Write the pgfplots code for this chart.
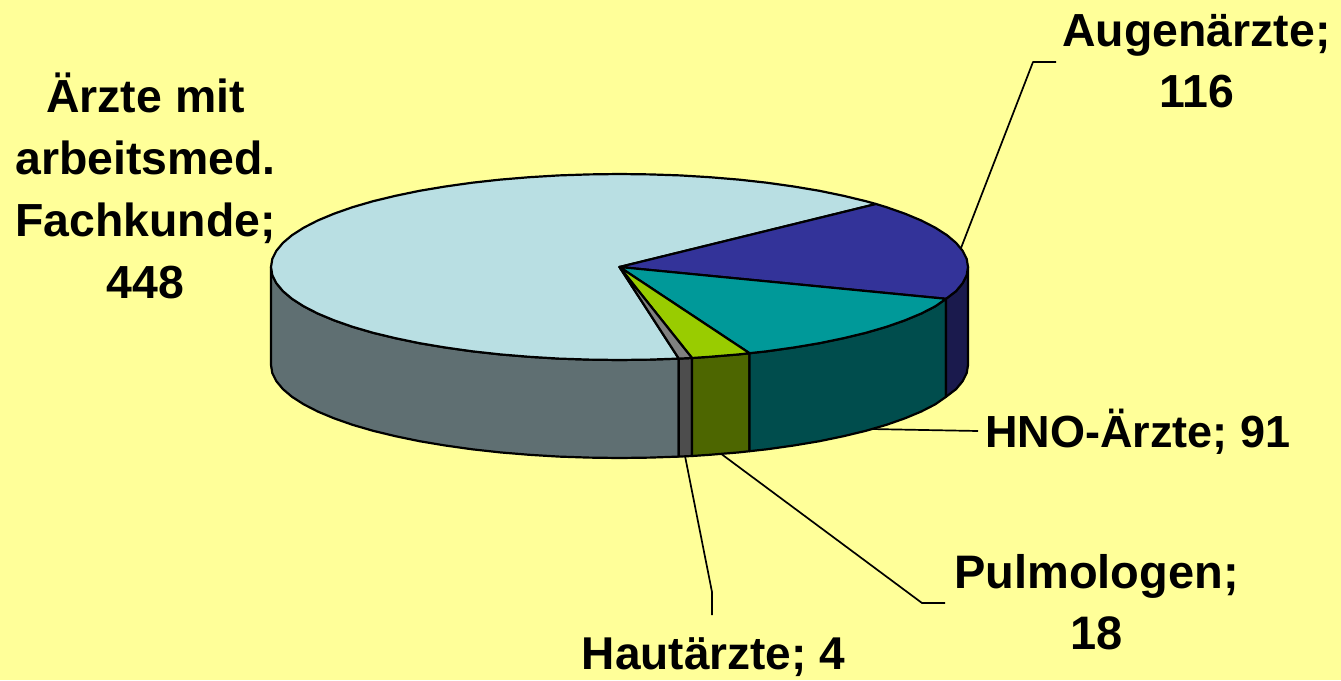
\documentclass[border=0pt]{standalone}
\usepackage{pgfplots}
\pgfplotsset{compat=1.18}
\usepackage{fontspec}
\setmainfont{Liberation Sans}
\definecolor{bg}{HTML}{FFFF99}
\definecolor{mainT}{HTML}{B9DFE3}
\definecolor{mainS}{HTML}{5F6F72}
\definecolor{augT}{HTML}{333399}
\definecolor{augS}{HTML}{1A1A4D}
\definecolor{hnoT}{HTML}{009999}
\definecolor{hnoS}{HTML}{004D4D}
\definecolor{pulT}{HTML}{99CC00}
\definecolor{pulS}{HTML}{4D6600}
\definecolor{hautT}{HTML}{808080}
\definecolor{hautS}{HTML}{4D4D4D}
\tikzset{lab/.style={font=\fontsize{#1}{61}\selectfont\bfseries, align=center, text=black, inner sep=0pt}}
\begin{document}
\begin{tikzpicture}
\path[use as bounding box] (0,0) rectangle (1341pt,680pt);
\begin{axis}[
  anchor=south west, at={(0,0)},
  scale only axis, width=1341pt, height=680pt,
  xmin=0, xmax=1341, ymin=0, ymax=680, y dir=reverse,
  hide axis, clip=true,
  every axis plot/.append style={line join=round, line width=2.2pt, mark=none, forget plot},
]
% background
\addplot[fill=bg, draw=none] coordinates {(0,0)(1341,0)(1341,680)(0,680)} --cycle;
% leader lines
\addplot[draw=black, line width=1.7pt] coordinates {(961,248)(1033,62)(1056,62)};
\addplot[draw=black, line width=1.7pt] coordinates {(870,429)(978,431)};
\addplot[draw=black, line width=1.7pt] coordinates {(720,453)(922,603)(945,603)};
\addplot[draw=black, line width=1.7pt] coordinates {(685,456)(712,592)(712,615)};
% side walls
\addplot[fill=mainS, draw=black] coordinates {
 (271,267)(272.3,275.1)(276.3,283.1)(282.9,291.1)(292,298.8)(303.7,306.3)(317.7,313.5)(334,320.3)(352.5,326.8)(373.1,332.8)(395.5,338.2)(419.6,343.2)(445.25,347.5)(472.2,351.3)(500.3,354.4)(529.3,356.8)(559,358.6)(589.1,359.6)(619.5,360)(649.9,359.6)(678.8,358.6)
 (678.8,456.6)(649.9,457.6)(619.5,458)(589.1,457.6)(559,456.6)(529.3,454.8)(500.3,452.4)(472.2,449.3)(445.25,445.5)(419.6,441.2)(395.5,436.2)(373.1,430.8)(352.5,424.8)(334,418.3)(317.7,411.5)(303.7,404.3)(292,396.8)(282.9,389.1)(276.3,381.1)(272.3,373.1)(271,365)
} --cycle;
\addplot[fill=hautS, draw=black] coordinates {(678.8,358.6)(692,358)(692,456)(678.8,456.6)} --cycle;
\addplot[fill=pulS, draw=black] coordinates {(692,358)(709.7,356.8)(738.7,354.4)(749.5,353.2)(749.5,451.2)(738.7,452.4)(709.7,454.8)(692,456)} --cycle;
\addplot[fill=hnoS, draw=black] coordinates {
 (749.5,353.2)(766.8,351.3)(793.75,347.5)(819.4,343.2)(843.5,338.2)(865.9,332.8)(886.5,326.8)(905,320.3)(921.3,313.5)(935.3,306.3)(946,298.8)
 (946,396.8)(935.3,404.3)(921.3,411.5)(905,418.3)(886.5,424.8)(865.9,430.8)(843.5,436.2)(819.4,441.2)(793.75,445.5)(766.8,449.3)(749.5,451.2)
} --cycle;
\addplot[fill=augS, draw=black] coordinates {
 (946,298.8)(956.1,291.1)(962.7,283.1)(966.7,275.1)(968,267)
 (968,365)(966.7,373.1)(962.7,381.1)(956.1,389.1)(946,396.8)
} --cycle;
% top faces
\addplot[fill=mainT, draw=black] coordinates {
 (619.5,267)(876,204)(865.9,201.2)(843.5,195.8)(819.4,190.8)(793.75,186.5)(766.8,182.7)(738.7,179.6)(709.7,177.2)(680,175.4)(649.9,174.4)(619.5,174)
 (589.1,174.4)(559,175.4)(529.3,177.2)(500.3,179.6)(472.2,182.7)(445.25,186.5)(419.6,190.8)(395.5,195.8)(373.1,201.2)(352.5,207.2)(334,213.7)(317.7,220.5)(303.7,227.7)(292,235.2)(282.9,242.9)(276.3,250.9)(272.3,258.9)(271,267)
 (272.3,275.1)(276.3,283.1)(282.9,291.1)(292,298.8)(303.7,306.3)(317.7,313.5)(334,320.3)(352.5,326.8)(373.1,332.8)(395.5,338.2)(419.6,343.2)(445.25,347.5)(472.2,351.3)(500.3,354.4)(529.3,356.8)(559,358.6)(589.1,359.6)(619.5,360)(649.9,359.6)(678.8,358.6)
} --cycle;
\addplot[fill=augT, draw=black] coordinates {
 (619.5,267)(946,298.8)(956.1,291.1)(962.7,283.1)(966.7,275.1)(968,267)(966.7,258.9)(962.7,250.9)(956.1,242.9)(947,235.2)(935.3,227.7)(921.3,220.5)(905,213.7)(886.5,207.2)(876,204)
} --cycle;
\addplot[fill=hnoT, draw=black] coordinates {
 (619.5,267)(749.5,353.2)(766.8,351.3)(793.75,347.5)(819.4,343.2)(843.5,338.2)(865.9,332.8)(886.5,326.8)(905,320.3)(921.3,313.5)(935.3,306.3)(946,298.8)
} --cycle;
\addplot[fill=pulT, draw=black] coordinates {(619.5,267)(692,358)(709.7,356.8)(738.7,354.4)(749.5,353.2)} --cycle;
\addplot[fill=hautT, draw=black] coordinates {(619.5,267)(678.8,358.6)(692,358)} --cycle;
% labels
\node[lab=46.4] at (axis cs:1196.5,61.5) {Augenärzte;\\116};
\node[lab=46.4,font=\fontsize{46.4}{62}\selectfont\bfseries] at (axis cs:145.5,185.5) {Ärzte mit\\arbeitsmed.\\Fachkunde;\\448};
\node[lab=45] at (axis cs:1138,431.5) {HNO-Ärzte; 91};
\node[lab=47] at (axis cs:1096.5,602) {Pulmologen;\\18};
\node[lab=46] at (axis cs:713.5,657) {Hautärzte; 4};
\end{axis}
\end{tikzpicture}
\end{document}
